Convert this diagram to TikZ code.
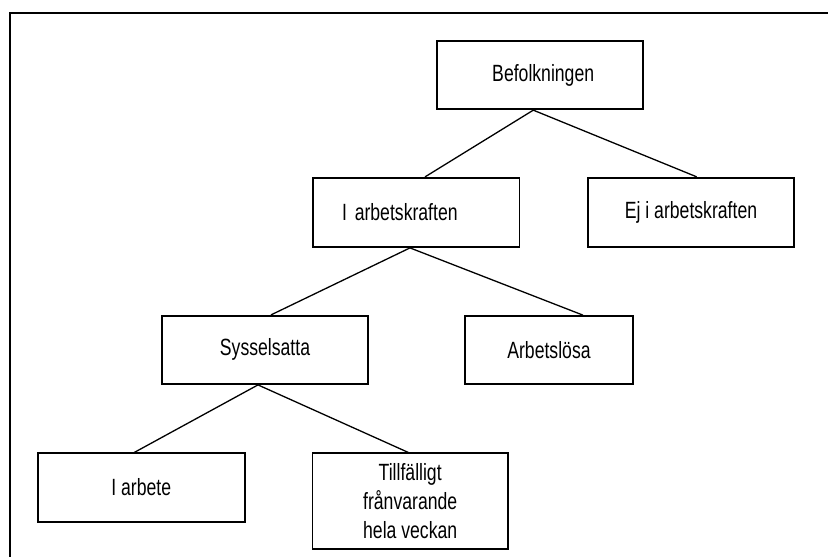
\documentclass[tikz,border=0pt]{standalone}
\usepackage{fontspec}
\setmainfont{Liberation Sans}[FakeStretch=0.75]
\usetikzlibrary{calc}
\begin{document}
\begin{tikzpicture}[x=1pt,y=-1pt,
  box/.style={draw=black,line width=1.7pt,inner sep=0pt,align=center,
    font=\fontsize{23.5}{29}\selectfont},
  link/.style={line width=1.3pt}]
\useasboundingbox (0,0) rectangle (828,557);
\draw[line width=1.8pt] (10,557) -- (10,13.3) -- (828,13.3);
\node[box,minimum width=206pt,minimum height=68.6pt] (bef) at (539.7,75) {\hspace*{7pt}Befolkningen};
\node[box,minimum height=69.3pt,inner xsep=29pt,text width=148.3pt,align=left] (ark) at (416.2,212.4) {I arbetskraften};
\node[box,minimum width=206.6pt,minimum height=69.6pt] (ej) at (691,212.5) {Ej i arbetskraften};
\node[box,minimum width=206.6pt,minimum height=68.3pt] (sys) at (265,349.9) {Sysselsatta};
\node[box,minimum width=168pt,minimum height=68pt] (arb) at (549,350) {Arbetslösa};
\node[box,minimum width=207.3pt,minimum height=68.4pt] (iar) at (141.3,487.5) {I arbete};
\node[box,minimum width=195.7pt,minimum height=96pt] (till) at (410.2,501.3) {Tillfälligt\\frånvarande\\hela veckan};
\draw[link] ([xshift=8.8pt]ark.north) -- ([xshift=-6.4pt]bef.south) -- ([xshift=5.7pt]ej.north);
\draw[link] ([xshift=6pt]sys.north) -- ([xshift=-6.2pt]ark.south) -- ([xshift=34pt]arb.north);
\draw[link] ([xshift=-7pt]iar.north) -- ([xshift=-7pt]sys.south) -- ([xshift=-1.9pt]till.north);
\end{tikzpicture}
\end{document}
